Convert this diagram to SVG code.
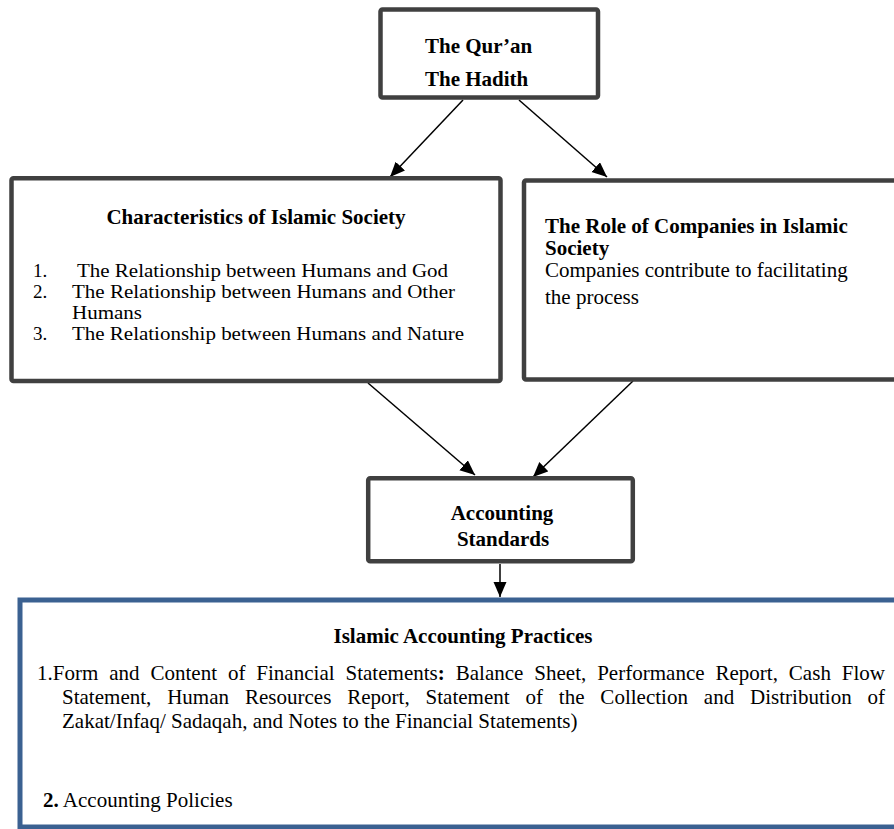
<svg xmlns="http://www.w3.org/2000/svg" width="894" height="829" viewBox="0 0 894 829">
<defs>
<style>
.box{fill:#fff;stroke:#404040;stroke-width:4.5}
.bbox{fill:#fff;stroke:#3b6191;stroke-width:5}
text{font-family:"Liberation Serif","Times New Roman",serif;font-size:21px;fill:#000}
.b{font-weight:bold}
.c{text-anchor:middle}
.li{font-size:19px}
.conn{stroke:#000;stroke-width:1.5;fill:none;marker-end:url(#ah)}
</style>
<marker id="ah" markerUnits="userSpaceOnUse" markerWidth="16" markerHeight="14" refX="15" refY="6.5" orient="auto">
<path d="M0,0 L15,6.5 L0,13 z" fill="#000"/>
</marker>
</defs>
<g id="connectors">
<line class="conn" x1="463" y1="100" x2="390" y2="177"/>
<line class="conn" x1="519" y1="100" x2="607" y2="177"/>
<line class="conn" x1="368" y1="383" x2="475" y2="475"/>
<line class="conn" x1="633" y1="381" x2="533" y2="477"/>
<line class="conn" x1="500" y1="564" x2="500" y2="597"/>
</g>
<g id="sources">
<rect class="box" x="380.5" y="9.5" width="217.5" height="88" rx="2"/>
<text class="b" x="425" y="53">The Qur’an</text>
<text class="b" x="425" y="86">The Hadith</text>
</g>
<g id="characteristics">
<rect class="box" x="11.5" y="178.3" width="489" height="202.7" rx="2"/>
<text class="b c" x="256" y="224">Characteristics of Islamic Society</text>
<text class="li" x="33" y="277">1.</text><text class="li" x="77" y="277" textLength="371" lengthAdjust="spacingAndGlyphs">The Relationship between Humans and God</text>
<text class="li" x="33" y="298">2.</text><text class="li" x="72" y="298" textLength="383" lengthAdjust="spacingAndGlyphs">The Relationship between Humans and Other</text>
<text class="li" x="72" y="319" textLength="70" lengthAdjust="spacingAndGlyphs">Humans</text>
<text class="li" x="33" y="340">3.</text><text class="li" x="72" y="340" textLength="392" lengthAdjust="spacingAndGlyphs">The Relationship between Humans and Nature</text>
</g>
<g id="companies">
<rect class="box" x="524" y="180.5" width="390" height="199" rx="2"/>
<text class="b" x="545" y="233">The Role of Companies in Islamic</text>
<text class="b" x="545" y="255">Society</text>
<text x="545" y="277">Companies contribute to facilitating</text>
<text x="545" y="304">the process</text>
</g>
<g id="standards">
<rect class="box" x="368.2" y="478.2" width="264.6" height="83" rx="2"/>
<text class="b c" x="502" y="520">Accounting</text>
<text class="b c" x="503" y="546">Standards</text>
</g>
<g id="practices">
<rect class="bbox" x="20" y="600" width="900" height="227"/>
<text class="b c" x="463" y="643">Islamic Accounting Practices</text>
<text x="37" y="680" word-spacing="5.6" textLength="848" lengthAdjust="spacing">1.Form and Content of Financial Statements<tspan class="b">:</tspan> Balance Sheet, Performance Report, Cash Flow</text>
<text x="62" y="704" word-spacing="10.6" textLength="823" lengthAdjust="spacing">Statement, Human Resources Report, Statement of the Collection and Distribution of</text>
<text x="62" y="728">Zakat/Infaq/ Sadaqah, and Notes to the Financial Statements)</text>
<text x="43" y="807"><tspan class="b">2.</tspan> Accounting Policies</text>
</g>
</svg>
